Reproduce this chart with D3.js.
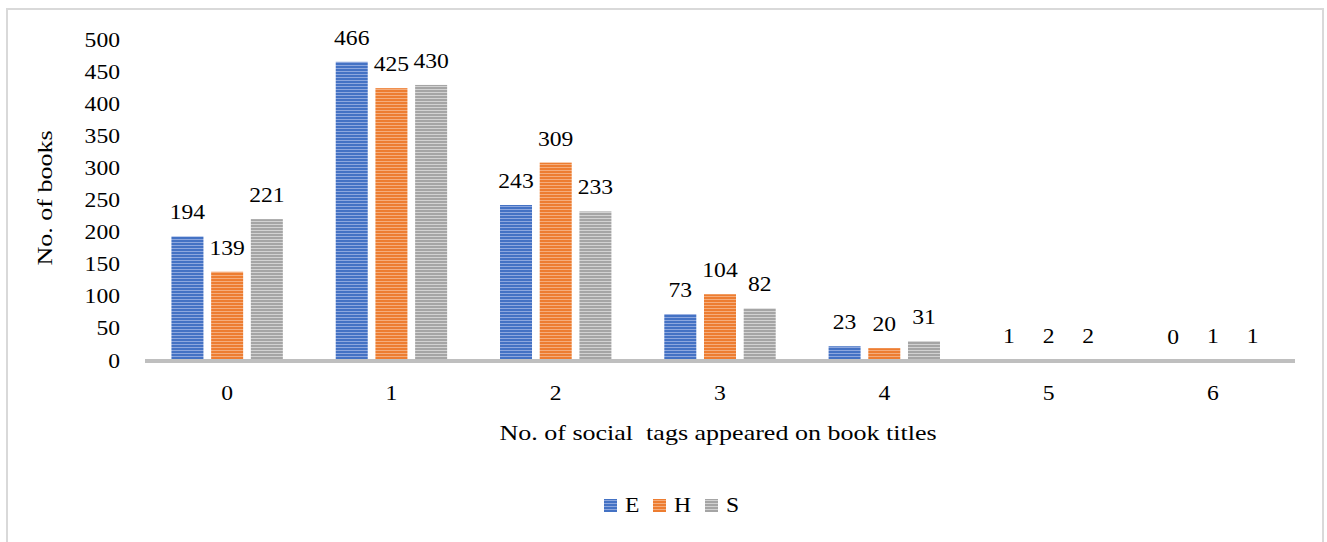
<!DOCTYPE html>
<html><head><meta charset="utf-8">
<script src="https://cdn.jsdelivr.net/npm/d3@7/dist/d3.min.js"></script>
<style>body{margin:0;background:#fff}svg{display:block}</style>
</head><body>
<svg id="c" width="1327" height="542"></svg>
<script>
const categories = ["0","1","2","3","4","5","6"];
const seriesNames = ["E","H","S"];
const valuesE = [194,466,243,73,23,1,0];
const valuesH = [139,425,309,104,20,2,1];
const valuesS = [221,430,233,82,31,2,1];
const yTicks = [0,50,100,150,200,250,300,350,400,450,500];
const xTitle = "No. of social  tags appeared on book titles";
const yTitle = "No. of books";

const colors = {E:"#4472c4", H:"#ed7d31", S:"#a5a5a5"};
const stripe = {E:"#8da7de", H:"#f5ad7c", S:"#d2d2d2"};
const seriesVals = {E:valuesE, H:valuesH, S:valuesS};
const FONT = "'Liberation Serif','Times New Roman',serif";
const SX = 1.18;

const svg = d3.select("#c");
const defs = svg.append("defs");
seriesNames.forEach(s=>{
  const p = defs.append("pattern").attr("id","p"+s).attr("patternUnits","userSpaceOnUse")
    .attr("width",4).attr("height",3);
  p.append("rect").attr("width",4).attr("height",3).attr("fill",colors[s]);
  p.append("rect").attr("y",2).attr("width",4).attr("height",1).attr("fill",stripe[s]);
});

// outer border
svg.append("rect").attr("x",7).attr("y",9).attr("width",1316).attr("height",545)
  .attr("fill","none").attr("stroke","#d9d9d9").attr("stroke-width",2);

const x0 = d3.scaleBand().domain(categories).range([145,1295]);
const x1 = d3.scaleBand().domain(seriesNames).range([0,x0.bandwidth()]).paddingInner(0.194).paddingOuter(0.666);
const y = d3.scaleLinear().domain([0,500]).range([361,40]);

function txt(g, x, yy, s, size, anchor, sx){
  return g.append("text").attr("transform",`translate(${x},${yy}) scale(${sx||SX},1)`)
    .attr("text-anchor",anchor||"middle").attr("font-family",FONT).attr("font-size",size)
    .attr("fill","#000").style("white-space","pre").text(s);
}

// y tick labels
const gy = svg.append("g");
yTicks.forEach(t=>txt(gy,120,y(t)+6.5,String(t),20,"end"));

// bars
const gb = svg.append("g");
categories.forEach((c,i)=>{
  seriesNames.forEach(s=>{
    const v = seriesVals[s][i];
    const bx = x0(c)+x1(s);
    gb.append("rect").attr("x",bx).attr("y",y(v)).attr("width",x1.bandwidth())
      .attr("height",y(0)-y(v)).attr("fill",`url(#p${s})`);
    txt(gb,bx+x1.bandwidth()/2,y(v)-17,String(v),20,"middle");
  });
});

// x axis line
svg.append("line").attr("x1",145).attr("x2",1295).attr("y1",y(0)).attr("y2",y(0))
  .attr("stroke","#bfbfbf").attr("stroke-width",4);

// x tick labels
categories.forEach(c=>txt(svg,x0(c)+x0.bandwidth()/2,400,c,20,"middle"));

// titles
txt(svg,718,440,xTitle,21,"middle",1.24);
svg.append("text").attr("transform",`translate(52,198) rotate(-90) scale(1.24,1)`)
  .attr("text-anchor","middle").attr("font-family",FONT).attr("font-size",21).text(yTitle);

// legend
const lg = svg.append("g");
const legX = {E:604, H:653, S:705};
seriesNames.forEach(s=>{
  lg.append("rect").attr("x",legX[s]).attr("y",499).attr("width",13).attr("height",13).attr("fill",`url(#p${s})`);
  txt(lg,legX[s]+21,512,s,20,"start");
});
</script>
</body></html>
